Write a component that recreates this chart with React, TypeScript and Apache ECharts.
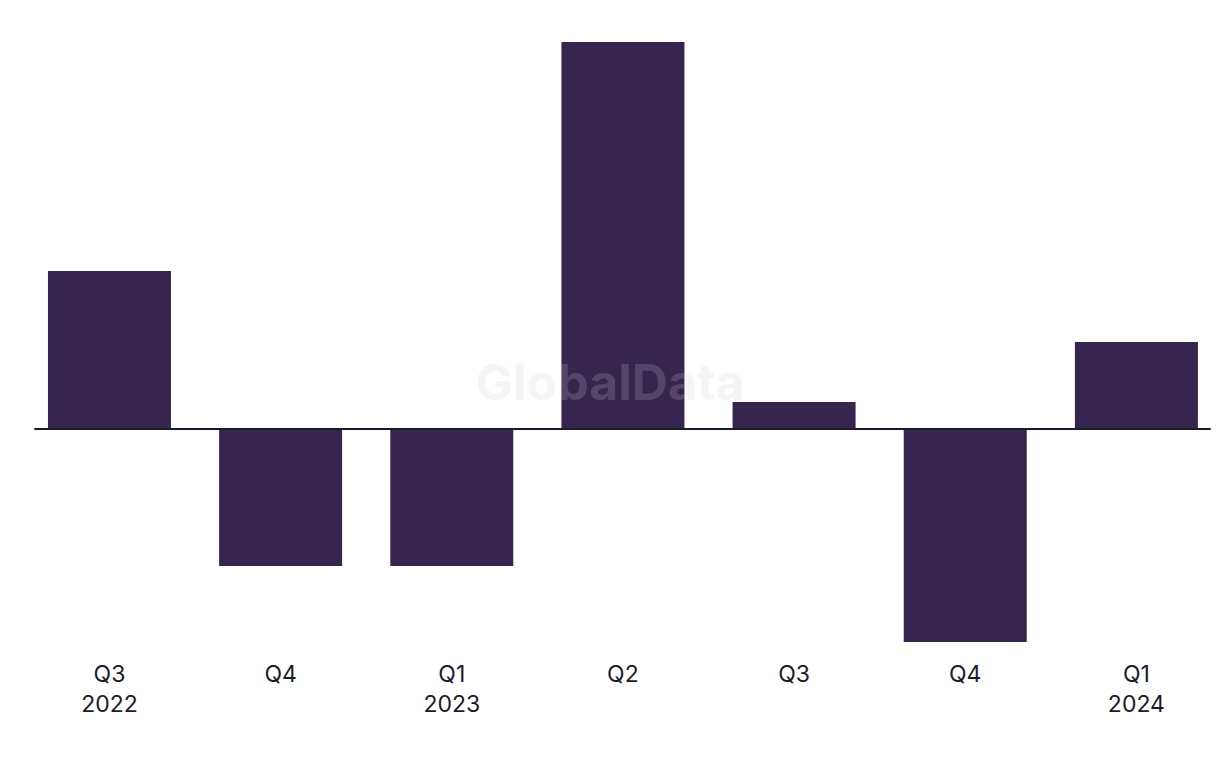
import React, { useEffect, useRef } from "react";
import * as echarts from "echarts";

const categories = ["Q3\n2022", "Q4", "Q1\n2023", "Q2", "Q3", "Q4", "Q1\n2024"];
const values = [15.8, -13.7, -13.7, 38.7, 2.7, -21.3, 8.7];
const watermark = "GlobalData";

const BAR_COLOR = "#36254f";
const TEXT_COLOR = "#1c1b2b";

export default function App() {
  const ref = useRef<HTMLDivElement>(null);

  useEffect(() => {
    if (!ref.current) return;
    const chart = echarts.init(ref.current, undefined, { renderer: "svg" });
    const positions = categories.map((_, i) => i);
    chart.setOption({
      animation: false,
      backgroundColor: "#ffffff",
      grid: { left: 35, right: 10, top: 29, bottom: 119, containLabel: false },
      xAxis: [
        {
          type: "value",
          min: -0.435,
          max: 6.43,
          position: "bottom",
          z: 10,
          axisLine: { show: true, onZero: true, lineStyle: { color: "#1a1a2a", width: 2 } },
          axisTick: { show: false },
          axisLabel: { show: false },
          splitLine: { show: false },
        },
        {
          type: "value",
          min: -0.435,
          max: 6.43,
          position: "bottom",
          axisLine: { show: false, onZero: false },
          axisTick: { show: false },
          splitLine: { show: false },
          axisLabel: {
            show: true,
            customValues: positions,
            formatter: (v: number) => categories[Math.round(v)] ?? "",
            fontFamily: "Inter",
            fontSize: 23,
            lineHeight: 30,
            color: TEXT_COLOR,
            margin: 10,
            align: "center",
          },
        },
      ],
      yAxis: {
        type: "value",
        min: -22,
        max: 40,
        show: false,
        splitLine: { show: false },
      },
      graphic: [
        {
          type: "text",
          x: 610,
          y: 381.5,
          z: 100,
          silent: true,
          style: {
            text: watermark,
            font: "bold 50px Inter",
            fill: "rgba(206,206,206,0.2)",
            align: "center",
            verticalAlign: "middle",
          },
        },
      ],
      series: [
        {
          type: "bar",
          xAxisIndex: 0,
          yAxisIndex: 0,
          barWidth: 123,
          data: values.map((v, i) => [positions[i], v]),
          itemStyle: { color: BAR_COLOR },
          emphasis: { disabled: true },
        },
      ],
    });
    return () => chart.dispose();
  }, []);

  return (
    <div
      ref={ref}
      style={{ position: "fixed", left: 0, top: 0, width: 1220, height: 768 }}
    />
  );
}
